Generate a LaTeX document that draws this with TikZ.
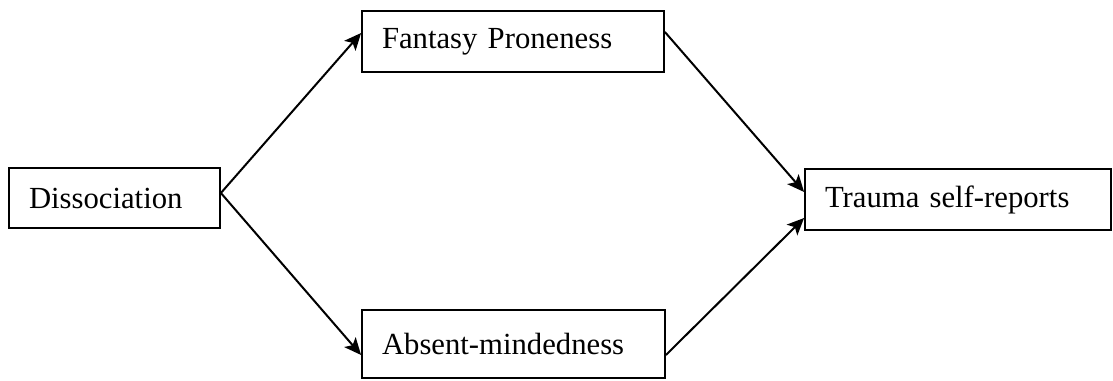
\documentclass[tikz,border=0pt]{standalone}
\usepackage{fontspec}
\setmainfont{Liberation Serif}
\usepackage{tikz}
\usetikzlibrary{shapes,arrows.meta,positioning,calc}

\begin{document}
\begin{tikzpicture}[x=0.5pt, y=-0.5pt, >={Stealth[length=8.5pt,width=7.5pt,inset=2pt]},
    box/.style={draw, rectangle, line width=0.9pt, inner xsep=10pt, align=left,
        font=\fontsize{15.35}{18}\selectfont}]
    \useasboundingbox (0,0) rectangle (1113,380);
    \node (dis) [box, minimum width=105.5pt, minimum height=30pt, text width=85.5pt] at (114.5,198) {Dissociation};
    \node (fp) [box, minimum width=151pt, minimum height=30.5pt, text width=131pt] at (513,41.5) {Fantasy Proneness};
    \node (am) [box, minimum width=151.5pt, minimum height=34pt, text width=131.5pt] at (513.5,344) {Absent-mindedness};
    \node (tsr) [box, minimum width=153pt, minimum height=30.5pt, text width=133pt] at (958,199.5) {Trauma self-reports};
    \draw[->, line width=1pt] ([yshift=2.5pt]dis.east) -- ([yshift=4.25pt]fp.west);
    \draw[->, line width=1pt] ([yshift=2.5pt]dis.east) -- ([yshift=-5.5pt]am.west);
    \draw[->, line width=1pt] ([yshift=4.75pt]fp.east) -- ([yshift=3.75pt]tsr.west);
    \draw[->, line width=1pt] ([yshift=-5.5pt]am.east) -- ([yshift=-9.25pt]tsr.west);
\end{tikzpicture}
\end{document}
